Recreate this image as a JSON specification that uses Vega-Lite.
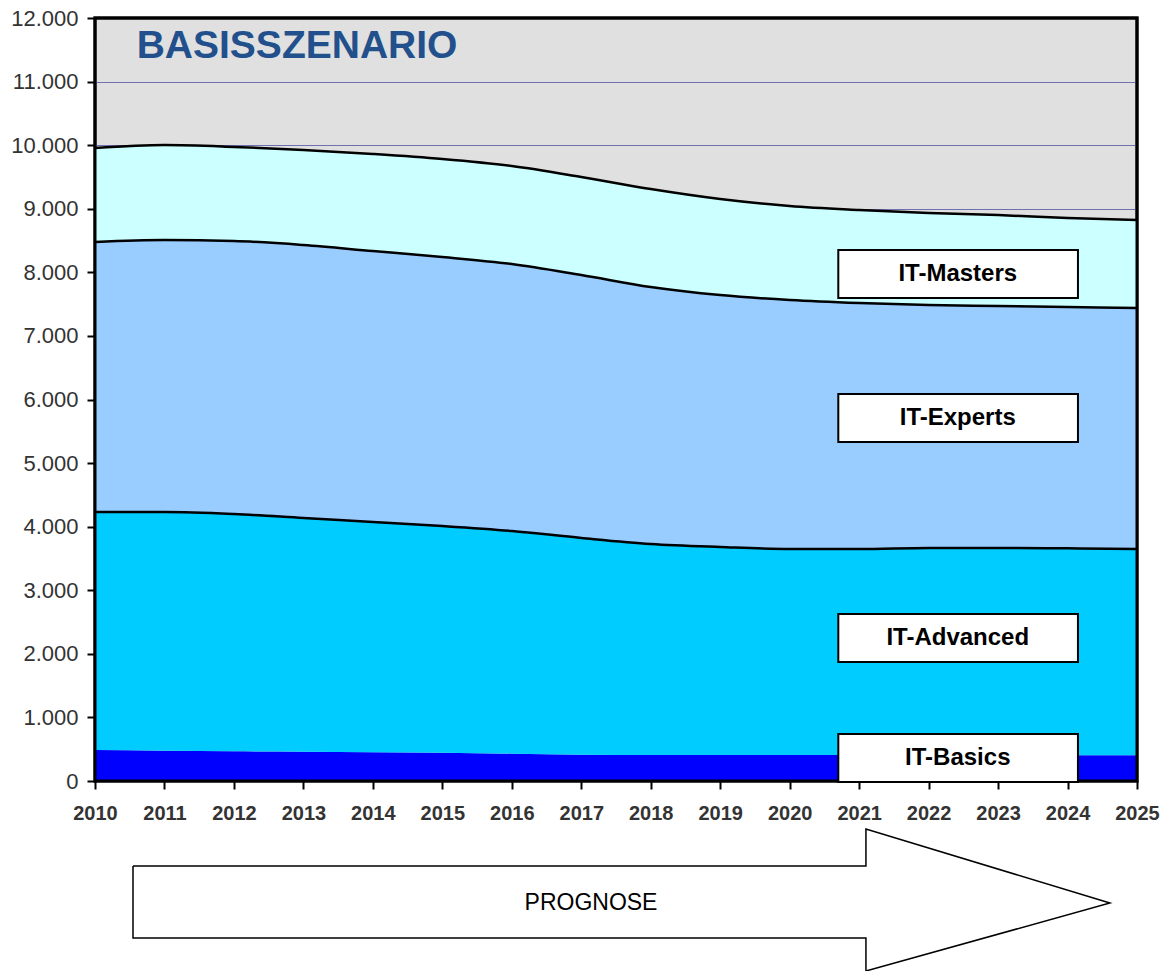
{
  "$schema": "https://vega.github.io/schema/vega-lite/v6.json",
  "width": 1042,
  "height": 763,
  "autosize": {"type": "none"},
  "padding": {"left": 95, "top": 18, "right": 34, "bottom": 190},
  "background": "white",
  "config": {
    "view": {"fill": "#e0e0e0", "stroke": "black", "strokeWidth": 3},
    "font": "Liberation Sans"
  },
  "datasets": {
    "series": [
      {"year": 2010, "cat": "IT-Basics", "ord": 1, "value": 488},
      {"year": 2011, "cat": "IT-Basics", "ord": 1, "value": 477},
      {"year": 2012, "cat": "IT-Basics", "ord": 1, "value": 467},
      {"year": 2013, "cat": "IT-Basics", "ord": 1, "value": 461},
      {"year": 2014, "cat": "IT-Basics", "ord": 1, "value": 451},
      {"year": 2015, "cat": "IT-Basics", "ord": 1, "value": 446},
      {"year": 2016, "cat": "IT-Basics", "ord": 1, "value": 430},
      {"year": 2017, "cat": "IT-Basics", "ord": 1, "value": 414},
      {"year": 2018, "cat": "IT-Basics", "ord": 1, "value": 409},
      {"year": 2019, "cat": "IT-Basics", "ord": 1, "value": 409},
      {"year": 2020, "cat": "IT-Basics", "ord": 1, "value": 408},
      {"year": 2021, "cat": "IT-Basics", "ord": 1, "value": 407},
      {"year": 2022, "cat": "IT-Basics", "ord": 1, "value": 406},
      {"year": 2023, "cat": "IT-Basics", "ord": 1, "value": 405},
      {"year": 2024, "cat": "IT-Basics", "ord": 1, "value": 405},
      {"year": 2025, "cat": "IT-Basics", "ord": 1, "value": 405},
      {"year": 2010, "cat": "IT-Advanced", "ord": 2, "value": 3743},
      {"year": 2011, "cat": "IT-Advanced", "ord": 2, "value": 3754},
      {"year": 2012, "cat": "IT-Advanced", "ord": 2, "value": 3732},
      {"year": 2013, "cat": "IT-Advanced", "ord": 2, "value": 3675},
      {"year": 2014, "cat": "IT-Advanced", "ord": 2, "value": 3622},
      {"year": 2015, "cat": "IT-Advanced", "ord": 2, "value": 3564},
      {"year": 2016, "cat": "IT-Advanced", "ord": 2, "value": 3502},
      {"year": 2017, "cat": "IT-Advanced", "ord": 2, "value": 3408},
      {"year": 2018, "cat": "IT-Advanced", "ord": 2, "value": 3318},
      {"year": 2019, "cat": "IT-Advanced", "ord": 2, "value": 3271},
      {"year": 2020, "cat": "IT-Advanced", "ord": 2, "value": 3241},
      {"year": 2021, "cat": "IT-Advanced", "ord": 2, "value": 3242},
      {"year": 2022, "cat": "IT-Advanced", "ord": 2, "value": 3259},
      {"year": 2023, "cat": "IT-Advanced", "ord": 2, "value": 3260},
      {"year": 2024, "cat": "IT-Advanced", "ord": 2, "value": 3255},
      {"year": 2025, "cat": "IT-Advanced", "ord": 2, "value": 3244},
      {"year": 2010, "cat": "IT-Experts", "ord": 3, "value": 4246},
      {"year": 2011, "cat": "IT-Experts", "ord": 3, "value": 4277},
      {"year": 2012, "cat": "IT-Experts", "ord": 3, "value": 4294},
      {"year": 2013, "cat": "IT-Experts", "ord": 3, "value": 4294},
      {"year": 2014, "cat": "IT-Experts", "ord": 3, "value": 4262},
      {"year": 2015, "cat": "IT-Experts", "ord": 3, "value": 4231},
      {"year": 2016, "cat": "IT-Experts", "ord": 3, "value": 4199},
      {"year": 2017, "cat": "IT-Experts", "ord": 3, "value": 4136},
      {"year": 2018, "cat": "IT-Experts", "ord": 3, "value": 4042},
      {"year": 2019, "cat": "IT-Experts", "ord": 3, "value": 3963},
      {"year": 2020, "cat": "IT-Experts", "ord": 3, "value": 3916},
      {"year": 2021, "cat": "IT-Experts", "ord": 3, "value": 3868},
      {"year": 2022, "cat": "IT-Experts", "ord": 3, "value": 3821},
      {"year": 2023, "cat": "IT-Experts", "ord": 3, "value": 3805},
      {"year": 2024, "cat": "IT-Experts", "ord": 3, "value": 3795},
      {"year": 2025, "cat": "IT-Experts", "ord": 3, "value": 3790},
      {"year": 2010, "cat": "IT-Masters", "ord": 4, "value": 1478},
      {"year": 2011, "cat": "IT-Masters", "ord": 4, "value": 1494},
      {"year": 2012, "cat": "IT-Masters", "ord": 4, "value": 1480},
      {"year": 2013, "cat": "IT-Masters", "ord": 4, "value": 1495},
      {"year": 2014, "cat": "IT-Masters", "ord": 4, "value": 1526},
      {"year": 2015, "cat": "IT-Masters", "ord": 4, "value": 1541},
      {"year": 2016, "cat": "IT-Masters", "ord": 4, "value": 1541},
      {"year": 2017, "cat": "IT-Masters", "ord": 4, "value": 1542},
      {"year": 2018, "cat": "IT-Masters", "ord": 4, "value": 1541},
      {"year": 2019, "cat": "IT-Masters", "ord": 4, "value": 1510},
      {"year": 2020, "cat": "IT-Masters", "ord": 4, "value": 1478},
      {"year": 2021, "cat": "IT-Masters", "ord": 4, "value": 1463},
      {"year": 2022, "cat": "IT-Masters", "ord": 4, "value": 1447},
      {"year": 2023, "cat": "IT-Masters", "ord": 4, "value": 1430},
      {"year": 2024, "cat": "IT-Masters", "ord": 4, "value": 1399},
      {"year": 2025, "cat": "IT-Masters", "ord": 4, "value": 1384}
    ],
    "frame": [
      {"x0": 2010, "x1": 2025, "lo": 0, "hi": 12000}
    ],
    "boxes": [
      {"label": "IT-Masters", "x0": 2020.7, "x1": 2024.15, "xm": 2022.42, "lo": 7596, "hi": 8351, "mid": 7974},
      {"label": "IT-Experts", "x0": 2020.7, "x1": 2024.15, "xm": 2022.42, "lo": 5331, "hi": 6086, "mid": 5709},
      {"label": "IT-Advanced", "x0": 2020.7, "x1": 2024.15, "xm": 2022.42, "lo": 1871, "hi": 2626, "mid": 2249},
      {"label": "IT-Basics", "x0": 2020.7, "x1": 2024.15, "xm": 2022.42, "lo": -16, "hi": 739, "mid": 362}
    ],
    "heading": [
      {"text": "BASISSZENARIO", "year": 2010.6, "value": 11560}
    ],
    "arrowBody": [
      {"x0": 2010.547, "x1": 2021.11, "top": -1337, "bot": -2469}
    ],
    "arrowHead": [
      {"ax": 2021.098, "top": -755, "bot": -2988},
      {"ax": 2024.61, "top": -1919, "bot": -1919}
    ],
    "arrowOutline": [
      {"i": 1, "ax": 2010.547, "ay": -1337},
      {"i": 2, "ax": 2021.098, "ay": -1337},
      {"i": 3, "ax": 2021.098, "ay": -755},
      {"i": 4, "ax": 2024.61, "ay": -1919},
      {"i": 5, "ax": 2021.098, "ay": -2988},
      {"i": 6, "ax": 2021.098, "ay": -2469},
      {"i": 7, "ax": 2010.547, "ay": -2469},
      {"i": 8, "ax": 2010.547, "ay": -1337}
    ],
    "arrowText": [
      {"text": "PROGNOSE", "ax": 2017.14, "ay": -1919}
    ]
  },
  "layer": [
    {
      "data": {"name": "series"},
      "transform": [
        {"stack": "value", "groupby": ["year"], "sort": [{"field": "ord", "order": "ascending"}], "as": ["v0", "v1"]}
      ],
      "mark": {"type": "area", "interpolate": "monotone"},
      "encoding": {
        "x": {
          "field": "year", "type": "quantitative", "title": null,
          "scale": {"domain": [2010, 2025], "nice": false, "zero": false},
          "axis": {
            "title": null,
            "values": [2010, 2011, 2012, 2013, 2014, 2015, 2016, 2017, 2018, 2019, 2020, 2021, 2022, 2023, 2024, 2025],
            "format": "d",
            "labelFlush": false,
            "labelFont": "Liberation Sans",
            "labelFontWeight": "bold",
            "labelFontSize": 20,
            "labelColor": "#333333",
            "labelPadding": 14,
            "tickColor": "black",
            "tickWidth": 2,
            "tickSize": 8,
            "domain": false,
            "grid": false
          }
        },
        "y": {
          "field": "v1", "type": "quantitative", "title": null,
          "scale": {"domain": [0, 12000], "nice": false},
          "axis": {
            "title": null,
            "values": [0, 1000, 2000, 3000, 4000, 5000, 6000, 7000, 8000, 9000, 10000, 11000, 12000],
            "labelExpr": "replace(format(datum.value, ','), ',', '.')",
            "labelFont": "Liberation Sans",
            "labelFontSize": 22,
            "labelColor": "#333333",
            "labelPadding": 9,
            "tickColor": "black",
            "tickWidth": 2,
            "tickSize": 8,
            "domain": false,
            "grid": true,
            "gridColor": "#7070b0",
            "gridWidth": 1
          }
        },
        "y2": {"field": "v0"},
        "color": {
          "field": "cat", "type": "nominal",
          "scale": {"domain": ["IT-Basics", "IT-Advanced", "IT-Experts", "IT-Masters"], "range": ["#0000ff", "#00ccff", "#99ccff", "#ccffff"]},
          "legend": null
        }
      }
    },
    {
      "data": {"name": "series"},
      "transform": [
        {"stack": "value", "groupby": ["year"], "sort": [{"field": "ord", "order": "ascending"}], "as": ["v0", "v1"]},
        {"filter": "datum.cat !== 'IT-Basics'"}
      ],
      "mark": {"type": "line", "interpolate": "monotone", "color": "black", "strokeWidth": 2.5},
      "encoding": {
        "x": {"field": "year", "type": "quantitative", "title": null},
        "y": {"field": "v1", "type": "quantitative", "title": null},
        "detail": {"field": "cat", "type": "nominal"}
      }
    },
    {
      "data": {"name": "frame"},
      "mark": {"type": "rect", "filled": false, "stroke": "black", "strokeWidth": 3, "fillOpacity": 0},
      "encoding": {
        "x": {"field": "x0", "type": "quantitative", "title": null},
        "x2": {"field": "x1"},
        "y": {"field": "hi", "type": "quantitative", "title": null},
        "y2": {"field": "lo"}
      }
    },
    {
      "data": {"name": "boxes"},
      "mark": {"type": "rect", "fill": "white", "stroke": "black", "strokeWidth": 2},
      "encoding": {
        "x": {"field": "x0", "type": "quantitative", "title": null},
        "x2": {"field": "x1"},
        "y": {"field": "hi", "type": "quantitative", "title": null},
        "y2": {"field": "lo"}
      }
    },
    {
      "data": {"name": "boxes"},
      "mark": {"type": "text", "font": "Liberation Sans", "fontWeight": "bold", "fontSize": 24, "color": "black", "align": "center", "baseline": "middle"},
      "encoding": {
        "x": {"field": "xm", "type": "quantitative", "title": null},
        "y": {"field": "mid", "type": "quantitative", "title": null},
        "text": {"field": "label"}
      }
    },
    {
      "data": {"name": "heading"},
      "mark": {"type": "text", "font": "Liberation Sans", "fontWeight": "bold", "fontSize": 39, "color": "#22508c", "align": "left", "baseline": "middle"},
      "encoding": {
        "x": {"field": "year", "type": "quantitative", "title": null},
        "y": {"field": "value", "type": "quantitative", "title": null},
        "text": {"field": "text"}
      }
    },
    {
      "data": {"name": "arrowBody"},
      "mark": {"type": "rect", "fill": "white", "strokeWidth": 0, "clip": false},
      "encoding": {
        "x": {"field": "x0", "type": "quantitative", "title": null},
        "x2": {"field": "x1"},
        "y": {"field": "top", "type": "quantitative", "title": null},
        "y2": {"field": "bot"}
      }
    },
    {
      "data": {"name": "arrowHead"},
      "mark": {"type": "area", "fill": "white", "clip": false},
      "encoding": {
        "x": {"field": "ax", "type": "quantitative", "title": null},
        "y": {"field": "top", "type": "quantitative", "title": null},
        "y2": {"field": "bot"}
      }
    },
    {
      "data": {"name": "arrowOutline"},
      "mark": {"type": "line", "color": "black", "strokeWidth": 1.5, "clip": false},
      "encoding": {
        "x": {"field": "ax", "type": "quantitative", "title": null},
        "y": {"field": "ay", "type": "quantitative", "title": null},
        "order": {"field": "i", "type": "quantitative"}
      }
    },
    {
      "data": {"name": "arrowText"},
      "mark": {"type": "text", "font": "Liberation Sans", "fontSize": 23, "color": "black", "align": "center", "baseline": "middle", "clip": false},
      "encoding": {
        "x": {"field": "ax", "type": "quantitative", "title": null},
        "y": {"field": "ay", "type": "quantitative", "title": null},
        "text": {"field": "text"}
      }
    }
  ]
}
